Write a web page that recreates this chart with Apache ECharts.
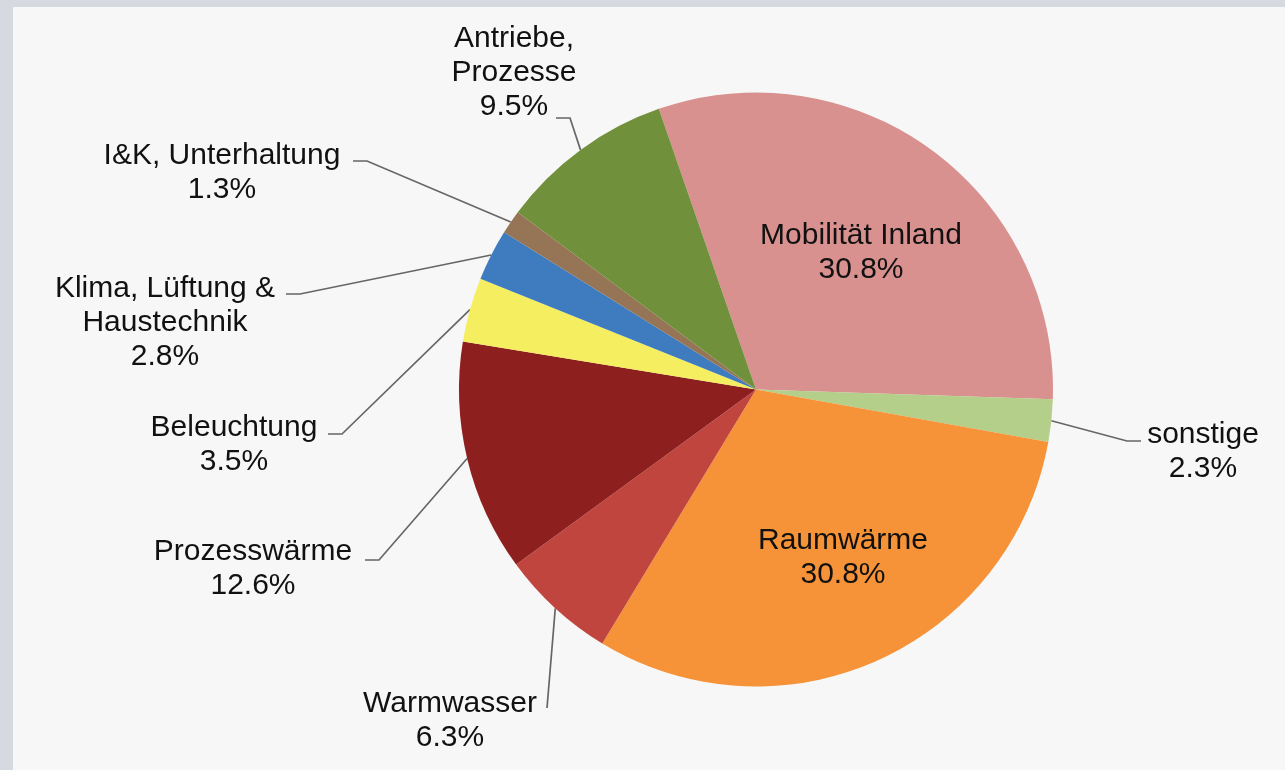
<!DOCTYPE html>
<html><head><meta charset="utf-8">
<script src="https://cdn.jsdelivr.net/npm/echarts@6/dist/echarts.min.js"></script>
<style>
html,body{margin:0;padding:0;background:#d6dae0;width:1285px;height:770px;overflow:hidden}
#panel{position:absolute;left:13px;top:7px;right:0;bottom:0;background:#f7f7f7}
#chart{position:absolute;left:0;top:0;width:1285px;height:770px}
</style></head><body>
<div id="panel"></div><div id="chart"></div>
<script>
// ---- data ----
const categories = ['Mobilität Inland','sonstige','Raumwärme','Warmwasser','Prozesswärme','Beleuchtung','Klima, Lüftung & Haustechnik','I&K, Unterhaltung','Antriebe, Prozesse'];
const labelTexts = ['Mobilität Inland','sonstige','Raumwärme','Warmwasser','Prozesswärme','Beleuchtung','Klima, Lüftung &\nHaustechnik','I&K, Unterhaltung','Antriebe,\nProzesse'];
const values = [30.8, 2.3, 30.8, 6.3, 12.6, 3.5, 2.8, 1.3, 9.5];
const colors = ['#d9918f','#b3cf89','#f69339','#c0453f','#8e1f1f','#f5ee60','#3f7bbf','#957555','#71903b'];
const insideLabel = [true,false,true,false,false,false,false,false,false];

// ---- label layout (pixel positions of label blocks and leader-line bends) ----
const labelCenters = [[861,253],[1203,452],[843,558],[450,721],[253,569],[234,445],[165,323],[222,173],[514,73]];
const leaderBends  = [null,[1127,441],null,[547,708],[379,560],[342,434],[300,294],[367,161],[570,118]];
const leaderEnds   = [null,[1141,441],null,[547,708],[365,560],[328,434],[286,294],[353,161],[556,118]];

const chart = echarts.init(document.getElementById('chart'), null, {renderer:'canvas'});
const data = categories.map((c, i) => ({
  name: c,
  value: values[i],
  itemStyle: { color: colors[i] },
  label: insideLabel[i] ? { position: 'inside' } : { position: 'outside' },
  labelLine: { show: !insideLabel[i] }
}));

chart.setOption({
  backgroundColor: 'transparent',
  animation: false,
  series: [{
    type: 'pie',
    center: [756, 389.5],
    radius: 297,
    startAngle: 109.1,
    clockwise: true,
    avoidLabelOverlap: false,
    silent: true,
    itemStyle: { borderWidth: 0 },
    label: {
      show: true,
      fontFamily: 'Liberation Sans, Arial, sans-serif',
      fontSize: 30,
      lineHeight: 34,
      color: '#111111',
      align: 'center',
      formatter: p => labelTexts[p.dataIndex] + '\n' + values[p.dataIndex].toFixed(1) + '%'
    },
    labelLine: {
      show: true,
      length: 20,
      length2: 14,
      lineStyle: { color: '#666666', width: 1.7 }
    },
    labelLayout: function (params) {
      const i = params.dataIndex;
      const out = { x: labelCenters[i][0], y: labelCenters[i][1], align: 'center', verticalAlign: 'middle' };
      if (leaderBends[i] && params.labelLinePoints && params.labelLinePoints.length) {
        out.labelLinePoints = [params.labelLinePoints[0], leaderBends[i], leaderEnds[i]];
      }
      return out;
    },
    data: data
  }]
});
</script>
</body></html>
